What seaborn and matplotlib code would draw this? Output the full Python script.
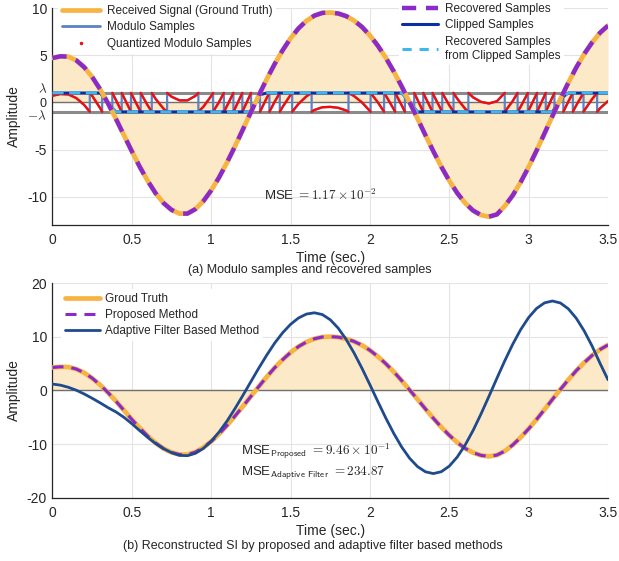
import numpy as np
import pandas as pd
import matplotlib
matplotlib.use("Agg")
import matplotlib.pyplot as plt
import matplotlib.transforms as mtransforms
import seaborn as sns
from matplotlib.lines import Line2D

# ---------------- data ----------------
time = np.round(np.arange(71) * 0.05, 2)          # 0 ... 3.5 s
LAM = 1.0                                          # modulo threshold lambda

received = [4.70, 4.88, 4.84, 4.45, 3.72, 2.69, 1.39, -0.12, -1.76, -3.48,
            -5.19, -6.84, -8.33, -9.64, -10.68, -11.40, -11.79, -11.79, -11.32, -10.48,
            -9.33, -7.94, -6.36, -4.65, -2.86, -1.04, 0.75, 2.47, 4.07, 5.52,
            6.79, 7.84, 8.64, 9.19, 9.48, 9.52, 9.42, 9.14, 8.67, 7.99,
            7.09, 6.00, 4.72, 3.28, 1.69, 0.00, -1.73, -3.49, -5.20, -6.83,
            -8.31, -9.61, -10.68, -11.47, -11.95, -12.12, -11.88, -10.99, -9.85, -8.45,
            -6.85, -5.11, -3.29, -1.45, 0.36, 2.08, 3.69, 5.12, 6.35, 7.38, 8.13]
recovered = list(received)

ground_truth = [4.30, 4.42, 4.38, 4.00, 3.30, 2.30, 1.05, -0.40, -2.00, -3.70,
                -5.40, -7.00, -8.50, -9.80, -10.85, -11.55, -11.95, -11.95, -11.50, -10.65,
                -9.50, -8.10, -6.50, -4.75, -2.95, -1.10, 0.75, 2.55, 4.25, 5.75,
                7.10, 8.20, 9.05, 9.65, 9.98, 10.05, 9.95, 9.65, 9.15, 8.45,
                7.50, 6.35, 5.00, 3.50, 1.85, 0.10, -1.65, -3.45, -5.20, -6.85,
                -8.35, -9.70, -10.80, -11.60, -12.10, -12.30, -12.05, -11.30, -10.15, -8.75,
                -7.15, -5.40, -3.55, -1.65, 0.20, 2.00, 3.70, 5.20, 6.55, 7.65, 8.50]
proposed = list(ground_truth)

adaptive = [1.20, 1.00, 0.60, 0.05, -0.65, -1.45, -2.30, -3.20, -4.00, -5.00,
            -6.20, -7.50, -8.75, -9.90, -10.85, -11.60, -12.10, -12.16, -11.72, -10.81,
            -9.47, -7.73, -5.68, -3.36, -0.89, 1.66, 4.19, 6.61, 8.85, 10.77,
            12.35, 13.53, 14.26, 14.50, 14.17, 13.20, 11.64, 9.54, 7.00, 4.14,
            1.07, -2.07, -5.14, -8.00, -10.54, -12.64, -14.20, -15.17, -15.50, -15.15,
            -14.11, -12.42, -10.17, -7.45, -4.37, -1.08, 2.28, 5.57, 8.65, 11.37,
            13.62, 15.31, 16.35, 16.70, 16.33, 15.24, 13.48, 11.12, 8.28, 5.06, 2.00]

x_ticks = [0, 0.5, 1, 1.5, 2, 2.5, 3, 3.5]
x_ticklabels = ["0", "0.5", "1", "1.5", "2", "2.5", "3", "3.5"]
top_yticks = [-10, -5, -LAM, 0, LAM, 5, 10]
top_yticklabels = ["-10", "-5", r"$-\lambda$", "0", r"$\lambda$", "5", "10"]
bot_yticks = [-20, -10, 0, 10, 20]
bot_yticklabels = ["-20", "-10", "0", "10", "20"]

# ---------------- style ----------------
sns.set_style("white")
plt.rcParams["font.family"] = ["Liberation Sans", "DejaVu Sans"]
plt.rcParams["mathtext.fontset"] = "cm"

ORANGE = "#F6B443"
FILL = "#FCE9C8"
PURPLE = "#8B2ACB"
MODBLUE = "#5B82C6"
RED = "#F20D0D"
CLIPBLUE = "#0B2DA6"
LIGHTBLUE = "#3DB7EC"
ADAPT = "#1F4B8E"
AXC = "#262626"


def fold(tt, ss, lam):
    """Modulo of the signal into [-lam, lam); wrap instants where the line crosses odd multiples."""
    bt, bv, rt, rv, rs = [], [], [], [], []
    seg = 0

    def wrap(v):
        return (v + lam) % (2 * lam) - lam

    for i in range(len(tt)):
        if i > 0:
            s0, s1 = ss[i - 1], ss[i]
            t0, t1 = tt[i - 1], tt[i]
            if s1 != s0:
                lo, hi = min(s0, s1), max(s0, s1)
                k_lo = int(np.ceil((lo - lam) / (2 * lam)))
                k_hi = int(np.floor((hi - lam) / (2 * lam)))
                levels = [lam + 2 * lam * k for k in range(k_lo, k_hi + 1)
                          if lo < lam + 2 * lam * k < hi]
                if s1 < s0:
                    levels = levels[::-1]
                for L in levels:
                    tc = t0 + (L - s0) / (s1 - s0) * (t1 - t0)
                    a, b = (lam, -lam) if s1 > s0 else (-lam, lam)
                    bt += [tc, tc]
                    bv += [a, b]
                    rt.append(tc); rv.append(a); rs.append(seg)
                    seg += 1
                    rt.append(tc); rv.append(b); rs.append(seg)
        w = wrap(ss[i])
        bt.append(tt[i]); bv.append(w)
        rt.append(tt[i]); rv.append(w); rs.append(seg)
    return (pd.DataFrame({"t": bt, "v": bv}),
            pd.DataFrame({"t": rt, "v": rv, "seg": rs}))


mod_df, red_df = fold(time, received, LAM)
clipped = np.clip(received, -LAM, LAM)

fig = plt.figure(figsize=(6.19, 5.61), dpi=100)
W, H = 619, 561
AX_L, AX_R = 52.5, 608.0
ax1 = fig.add_axes([AX_L / W, 1 - 225 / H, (AX_R - AX_L) / W, 217 / H])
ax2 = fig.add_axes([AX_L / W, 1 - 497.7 / H, (AX_R - AX_L) / W, 214.4 / H])


def style_axes(ax):
    ax.set_axisbelow(True)
    ax.grid(True, color="#e4e4e4", lw=0.8)
    for s in ("top", "right"):
        ax.spines[s].set_visible(False)
    for s in ("left", "bottom"):
        ax.spines[s].set_color(AXC)
        ax.spines[s].set_linewidth(0.9)
    ax.tick_params(direction="in", length=4, width=0.9, colors=AXC, labelsize=10)
    ax.tick_params(axis="x", pad=6)
    ax.tick_params(axis="y", pad=4)
    ax.set_xlim(0, 3.5)
    ax.set_xticks(x_ticks)
    ax.set_xticklabels(x_ticklabels)
    ax.set_xlabel("Time (sec.)", fontsize=10, labelpad=2.5, color=AXC)
    ax.set_ylabel("Amplitude", fontsize=10, color=AXC)


# ---------------- top panel ----------------
style_axes(ax1)
ax1.set_ylim(-13, 10)
ax1.set_yticks(top_yticks)
ax1.set_yticklabels(top_yticklabels)
for tick in ax1.yaxis.get_major_ticks():
    txt = tick.label1.get_text()
    if txt == r"$\lambda$":
        tick.label1.set_fontsize(9.5)
        tick.label1.set_transform(tick.label1.get_transform() +
                                  mtransforms.ScaledTranslation(0, 3.2 / 72, fig.dpi_scale_trans))
    elif txt == r"$-\lambda$":
        tick.label1.set_fontsize(9.5)
        tick.label1.set_transform(tick.label1.get_transform() +
                                  mtransforms.ScaledTranslation(0, -2.4 / 72, fig.dpi_scale_trans))
    elif txt == "0":
        tick.label1.set_fontsize(9)
ax1.yaxis.set_label_coords(-0.057, 0.5)

ax1.fill_between(time, received, 0, color=FILL, lw=0, zorder=1)
ax1.axhline(0, color="#707070", lw=1.0, zorder=2)
ax1.axhline(LAM, color="#8a8a8a", lw=2.2, zorder=2)
ax1.axhline(-LAM, color="#8a8a8a", lw=2.2, zorder=2)

sns.lineplot(data=mod_df, x="t", y="v", ax=ax1, color=MODBLUE, lw=1.6,
             estimator=None, sort=False, zorder=3)
sns.lineplot(data=red_df, x="t", y="v", units="seg", ax=ax1, color=RED, lw=1.7,
             estimator=None, sort=False, zorder=4)
sns.lineplot(x=time, y=clipped, ax=ax1, color=CLIPBLUE, lw=2.0,
             estimator=None, sort=False, zorder=5)
sns.lineplot(x=time, y=clipped, ax=ax1, color=LIGHTBLUE, lw=2.0,
             linestyle=(0, (4, 2)), estimator=None, sort=False, zorder=6)
sns.lineplot(x=time, y=received, ax=ax1, color=ORANGE, lw=3.4,
             estimator=None, sort=False, zorder=7)
sns.lineplot(x=time, y=recovered, ax=ax1, color=PURPLE, lw=3.2,
             linestyle=(0, (3.2, 2.2)), estimator=None, sort=False, zorder=8)

ax1.text(1.33, -9.9, r"MSE $= 1.17\times10^{-2}$", fontsize=9.5, va="center",
         ha="left", color=AXC, zorder=9)

h1 = [Line2D([], [], color=ORANGE, lw=3.4),
      Line2D([], [], color=MODBLUE, lw=2.0),
      Line2D([], [], color=RED, ls="none", marker=".", markersize=3)]
leg1 = ax1.legend(h1, ["Received Signal (Ground Truth)", "Modulo Samples",
                       "Quantized Modulo Samples"],
                  loc="upper left", bbox_to_anchor=(0.0, 1.058), fontsize=8.5,
                  frameon=True, facecolor="white", edgecolor="none", framealpha=1,
                  handlelength=3.2, labelspacing=0.39, borderpad=0.3,
                  handletextpad=0.6)
leg1.set_zorder(20)
ax1.add_artist(leg1)

h2 = [Line2D([], [], color=PURPLE, lw=3.2, ls=(0, (3.2, 2.2))),
      Line2D([], [], color=CLIPBLUE, lw=2.2),
      Line2D([], [], color=LIGHTBLUE, lw=2.2, ls=(0, (3, 2.6)))]
leg2 = ax1.legend(h2, ["Recovered Samples", "Clipped Samples",
                       "Recovered Samples\nfrom Clipped Samples"],
                  loc="upper left", bbox_to_anchor=(0.613, 1.068), fontsize=8.5,
                  frameon=True, facecolor="white", edgecolor="none", framealpha=1,
                  handlelength=3.0, labelspacing=0.4, borderpad=0.3,
                  handletextpad=0.6)
leg2.set_zorder(20)

# ---------------- bottom panel ----------------
style_axes(ax2)
ax2.set_ylim(-20, 20)
ax2.set_yticks(bot_yticks)
ax2.set_yticklabels(bot_yticklabels)
ax2.yaxis.set_label_coords(-0.057, 0.5)

ax2.fill_between(time, ground_truth, 0, color=FILL, lw=0, zorder=1)
ax2.axhline(0, color="#707070", lw=1.0, zorder=2)
sns.lineplot(x=time, y=ground_truth, ax=ax2, color=ORANGE, lw=3.4,
             estimator=None, sort=False, zorder=5)
sns.lineplot(x=time, y=proposed, ax=ax2, color=PURPLE, lw=2.2,
             linestyle=(0, (3.6, 2.6)), estimator=None, sort=False, zorder=6)
sns.lineplot(x=time, y=adaptive, ax=ax2, color=ADAPT, lw=2.0,
             estimator=None, sort=False, zorder=7)

ax2.text(1.19, -11.4, r"MSE$_{\mathsf{Proposed}}$ $= 9.46\times10^{-1}$",
         fontsize=9.5, va="center", ha="left", color=AXC, zorder=9)
ax2.text(1.19, -15.4, r"MSE$_{\mathsf{Adaptive\ Filter}}$ $= 234.87$",
         fontsize=9.5, va="center", ha="left", color=AXC, zorder=9)

h3 = [Line2D([], [], color=ORANGE, lw=3.4),
      Line2D([], [], color=PURPLE, lw=2.2, ls=(0, (3.6, 2.6))),
      Line2D([], [], color=ADAPT, lw=2.0)]
leg3 = ax2.legend(h3, ["Groud Truth", "Proposed Method", "Adaptive Filter Based Method"],
                  loc="upper left", bbox_to_anchor=(0.005, 0.999), fontsize=8.5,
                  frameon=True, facecolor="white", edgecolor="none", framealpha=1,
                  handlelength=3.0, labelspacing=0.36, borderpad=0.3,
                  handletextpad=0.4)
leg3.set_zorder(20)

fig.text(0.5, 1 - 270 / H, "(a) Modulo samples and recovered samples",
         ha="center", va="center", fontsize=9, color=AXC)
fig.text(0.505, 1 - 546 / H,
         "(b) Reconstructed SI by proposed and adaptive filter based methods",
         ha="center", va="center", fontsize=9, color=AXC)

fig.savefig("out.png", dpi=100)
